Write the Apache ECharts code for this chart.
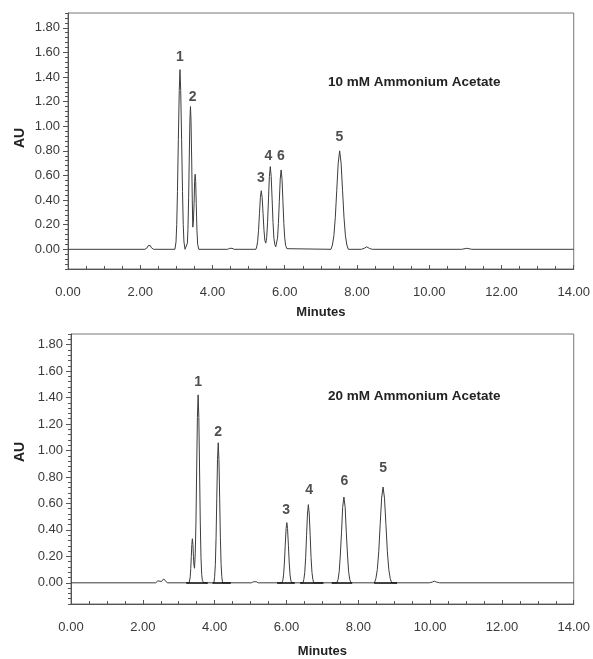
<!DOCTYPE html>
<html>
<head>
<meta charset="utf-8">
<script src="https://cdn.jsdelivr.net/npm/echarts@6/dist/echarts.min.js"></script>
<style>
  html, body { margin: 0; padding: 0; background: #fff; }
  #chart { width: 593px; height: 659px; }
</style>
</head>
<body>
<div id="chart"></div>
<script>
// chromatogram traces [minutes, AU]
var trace10 = [
  [0, 0], [2.13, 0], [2.19, 0.012], [2.22, 0.03], [2.25, 0.04], [2.28, 0.03], [2.31, 0.012], [2.37, 0],
  [2.96, 0], [2.99, 0.06], [3.01, 0.20], [3.03, 0.47], [3.055, 0.89], [3.08, 1.29], [3.10, 1.46], [3.12, 1.29], [3.145, 0.89], [3.17, 0.47], [3.19, 0.20], [3.21, 0.06], [3.24, 0],
  [3.28, 0], [3.305, 0.05], [3.32, 0.16], [3.34, 0.42], [3.355, 0.71], [3.375, 1.05], [3.39, 1.16], [3.405, 1.05], [3.425, 0.71], [3.44, 0.40], [3.455, 0.18], [3.47, 0.22], [3.49, 0.37], [3.505, 0.55], [3.52, 0.61], [3.535, 0.55], [3.55, 0.37], [3.57, 0.15], [3.59, 0.04], [3.62, 0],
  [4.42, 0], [4.48, 0.008], [4.51, 0.012], [4.54, 0.008], [4.60, 0],
  [5.20, 0], [5.225, 0.02], [5.25, 0.065], [5.275, 0.155], [5.30, 0.29], [5.325, 0.42], [5.35, 0.476], [5.375, 0.42], [5.40, 0.29], [5.425, 0.155], [5.45, 0.07], [5.475, 0.05],
  [5.50, 0.095], [5.525, 0.22], [5.55, 0.41], [5.575, 0.59], [5.60, 0.672], [5.625, 0.59], [5.65, 0.41], [5.675, 0.22], [5.70, 0.09], [5.725, 0.04], [5.75, 0.02],
  [5.775, 0.03], [5.80, 0.09], [5.825, 0.21], [5.85, 0.39], [5.875, 0.57], [5.90, 0.645], [5.925, 0.57], [5.95, 0.39], [5.975, 0.21], [6.00, 0.09], [6.025, 0.03], [6.06, 0.005], [6.10, 0],
  [7.28, 0], [7.32, 0.035], [7.36, 0.11], [7.40, 0.26], [7.44, 0.48], [7.48, 0.70], [7.52, 0.80], [7.56, 0.70], [7.60, 0.48], [7.64, 0.26], [7.68, 0.11], [7.72, 0.035], [7.76, 0],
  [8.12, 0], [8.20, 0.008], [8.27, 0.02], [8.34, 0.008], [8.42, 0],
  [10.9, 0], [11.04, 0.008], [11.18, 0],
  [14, 0]
]
var trace20 = [
  [0, 0], [2.36, 0], [2.42, 0.015], [2.46, 0.03], [2.52, 0.01], [2.58, 0.03], [2.62, 0.015], [2.68, 0],
  [3.29, 0], [3.32, 0.045], [3.335, 0.108], [3.35, 0.20], [3.365, 0.29], [3.38, 0.333], [3.395, 0.29], [3.41, 0.20], [3.425, 0.13], [3.44, 0.11],
  [3.46, 0.22], [3.48, 0.46], [3.50, 0.86], [3.52, 1.25], [3.54, 1.42], [3.56, 1.25], [3.58, 0.86], [3.60, 0.46], [3.62, 0.19], [3.64, 0.062], [3.66, 0.016], [3.70, 0],
  [3.98, 0], [4.00, 0.046], [4.02, 0.14], [4.04, 0.34], [4.06, 0.64], [4.08, 0.93], [4.10, 1.058], [4.12, 0.93], [4.14, 0.64], [4.16, 0.34], [4.18, 0.14], [4.20, 0.046], [4.22, 0],
  [5.02, 0], [5.08, 0.008], [5.12, 0.012], [5.16, 0.008], [5.22, 0],
  [5.875, 0], [5.90, 0.02], [5.92, 0.06], [5.9425, 0.15], [5.965, 0.28], [5.99, 0.41], [6.01, 0.455], [6.03, 0.41], [6.055, 0.28], [6.0775, 0.15], [6.10, 0.06], [6.12, 0.02], [6.145, 0],
  [6.46, 0], [6.485, 0.026], [6.51, 0.08], [6.535, 0.19], [6.56, 0.36], [6.585, 0.52], [6.61, 0.591], [6.635, 0.52], [6.66, 0.36], [6.685, 0.19], [6.71, 0.08], [6.735, 0.026], [6.76, 0],
  [7.405, 0], [7.44, 0.028], [7.47, 0.088], [7.50, 0.21], [7.535, 0.39], [7.565, 0.57], [7.60, 0.648], [7.635, 0.57], [7.665, 0.39], [7.70, 0.21], [7.73, 0.088], [7.76, 0.028], [7.795, 0],
  [8.45, 0], [8.49, 0.032], [8.53, 0.10], [8.57, 0.235], [8.61, 0.44], [8.65, 0.64], [8.69, 0.724], [8.73, 0.64], [8.77, 0.44], [8.81, 0.235], [8.85, 0.10], [8.89, 0.032], [8.93, 0],
  [9.98, 0], [10.06, 0.006], [10.12, 0.012], [10.18, 0.006], [10.26, 0],
  [14, 0]
]

// peak number labels (name, minutes, AU at label centre)
var peakNames10 = ['1', '2', '3', '4', '6', '5']
var peakX10 = [3.10, 3.45, 5.34, 5.55, 5.89, 7.51]
var peakY10 = [1.56, 1.24, 0.58, 0.76, 0.76, 0.91]
var peakNames20 = ['1', '2', '3', '4', '6', '5']
var peakX20 = [3.54, 4.10, 5.99, 6.63, 7.61, 8.69]
var peakY20 = [1.52, 1.14, 0.55, 0.70, 0.77, 0.87]

// integration baselines drawn under the 20 mM peaks
var baseStart20 = [3.21, 3.94, 5.74, 6.38, 7.26, 8.44]
var baseEnd20 = [3.81, 4.45, 6.23, 7.03, 7.83, 9.08]

var yMajor = [0, 0.2, 0.4, 0.6, 0.8, 1.0, 1.2, 1.4, 1.6, 1.8]

var font = 'Liberation Sans, Arial, sans-serif'
var textColor = '#3a3a3a'
var axisColor = '#555'

function xAxisOpt(gridIndex, nameGap) {
  return {
    type: 'value', gridIndex: gridIndex, min: 0, max: 14, interval: 2,
    name: 'Minutes', nameLocation: 'middle', nameGap: nameGap,
    nameTextStyle: { fontFamily: font, fontWeight: 'bold', fontSize: 13, color: '#222' },
    axisLine: { show: true, onZero: false, lineStyle: { color: axisColor, width: 1 } },
    axisTick: { show: true, inside: true, length: 4, lineStyle: { color: axisColor } },
    minorTick: { show: true, splitNumber: 4, length: 3, lineStyle: { color: axisColor } },
    axisLabel: { margin: 17, fontFamily: font, fontSize: 13, color: textColor, formatter: function(v) { return v.toFixed(2) } },
    splitLine: { show: false }
  }
}

function yAxisOpts(gridIndex, max) {
  return [{
    type: 'value', gridIndex: gridIndex, position: 'left', min: -0.16, max: max,
    axisLine: { show: true, onZero: false, lineStyle: { color: axisColor, width: 1 } },
    axisTick: { show: true, length: 5, customValues: yMajor, lineStyle: { color: axisColor } },
    axisLabel: { margin: 8, fontFamily: font, fontSize: 13, color: textColor, customValues: yMajor, formatter: function(v) { return v.toFixed(2) } },
    splitLine: { show: false }
  }, {
    type: 'value', gridIndex: gridIndex, position: 'left', offset: 0, min: -0.16, max: max, interval: 0.04,
    axisLine: { show: false, onZero: false },
    axisTick: { show: true, length: 3, lineStyle: { color: axisColor } },
    axisLabel: { show: false },
    splitLine: { show: false }
  }]
}

function labelData(names, xs, ys) {
  return names.map(function(n, i) { return { name: n, value: [xs[i], ys[i]] } })
}

var segData = baseStart20.map(function(s, i) {
  return [{ coord: [s, 0] }, { coord: [baseEnd20[i], 0] }]
})

var labelStyle = {
  show: true, position: 'inside', formatter: '{b}',
  fontFamily: font, fontWeight: 'bold', fontSize: 14, color: '#222'
}

var chart = echarts.init(document.getElementById('chart'))
chart.setOption({
  animation: false,
  grid: [
    { left: 68, right: 19, top: 13, height: 256, show: true, borderColor: '#777', borderWidth: 1 },
    { left: 71, right: 16, top: 334, height: 270, show: true, borderColor: '#777', borderWidth: 1 }
  ],
  xAxis: [xAxisOpt(0, 37), xAxisOpt(1, 41)],
  yAxis: yAxisOpts(0, 1.92).concat(yAxisOpts(1, 1.88)),
  graphic: [
    { type: 'text', x: 20, y: 138, rotation: Math.PI / 2,
      style: { text: 'AU', font: 'bold 14px ' + font, fill: '#222', align: 'center', verticalAlign: 'middle' } },
    { type: 'text', x: 20, y: 452, rotation: Math.PI / 2,
      style: { text: 'AU', font: 'bold 14px ' + font, fill: '#222', align: 'center', verticalAlign: 'middle' } },
    { type: 'text', x: 328, y: 82,
      style: { text: '10 mM Ammonium Acetate', font: 'bold 13.5px ' + font, fill: '#222', align: 'left', verticalAlign: 'middle' } },
    { type: 'text', x: 328, y: 396,
      style: { text: '20 mM Ammonium Acetate', font: 'bold 13.5px ' + font, fill: '#222', align: 'left', verticalAlign: 'middle' } }
  ],
  series: [
    {
      type: 'line', xAxisIndex: 0, yAxisIndex: 0, data: trace10,
      showSymbol: false, symbol: 'none', lineStyle: { color: '#3c3c3c', width: 1 }
    },
    {
      type: 'line', xAxisIndex: 1, yAxisIndex: 2, data: trace20,
      showSymbol: false, symbol: 'none', lineStyle: { color: '#3c3c3c', width: 1 },
      markLine: {
        silent: true, symbol: 'none', label: { show: false },
        lineStyle: { color: '#111', width: 1.6, type: 'solid' },
        data: segData
      }
    },
    {
      type: 'scatter', xAxisIndex: 0, yAxisIndex: 0, symbolSize: 0,
      data: labelData(peakNames10, peakX10, peakY10), label: labelStyle
    },
    {
      type: 'scatter', xAxisIndex: 1, yAxisIndex: 2, symbolSize: 0,
      data: labelData(peakNames20, peakX20, peakY20), label: labelStyle
    }
  ]
})
</script>
</body>
</html>
